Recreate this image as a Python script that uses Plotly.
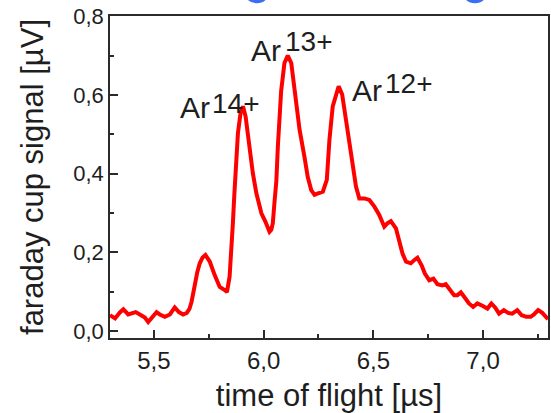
import plotly.graph_objects as go

# time of flight [µs]
tof = [5.300, 5.323, 5.345, 5.361, 5.383, 5.401, 5.417, 5.436, 5.459, 5.474,
       5.497, 5.512, 5.527, 5.550, 5.573, 5.595, 5.614, 5.633, 5.650, 5.662,
       5.672, 5.680, 5.686, 5.698, 5.709, 5.722, 5.735, 5.755, 5.777, 5.800,
       5.823, 5.833, 5.845, 5.853, 5.860, 5.866, 5.871, 5.877, 5.883, 5.895,
       5.906, 5.918, 5.927, 5.936, 5.951, 5.967, 5.990, 6.008, 6.027, 6.035,
       6.042, 6.050, 6.058, 6.065, 6.073, 6.080, 6.095, 6.110, 6.126, 6.141,
       6.164, 6.186, 6.201, 6.217, 6.232, 6.245, 6.255, 6.270, 6.288, 6.300,
       6.315, 6.330, 6.342, 6.358, 6.373, 6.383, 6.391, 6.406, 6.414, 6.421,
       6.436, 6.459, 6.482, 6.505, 6.527, 6.550, 6.565, 6.580, 6.603, 6.618,
       6.633, 6.649, 6.671, 6.686, 6.701, 6.720, 6.735, 6.755, 6.774, 6.792,
       6.815, 6.830, 6.845, 6.868, 6.883, 6.899, 6.914, 6.936, 6.955, 6.974,
       6.997, 7.020, 7.038, 7.055, 7.073, 7.095, 7.114, 7.133, 7.156, 7.176,
       7.197, 7.217, 7.232, 7.251, 7.270, 7.288, 7.296]
# faraday cup signal [µV]
signal = [0.040, 0.032, 0.047, 0.055, 0.042, 0.044, 0.048, 0.042, 0.034, 0.023,
          0.036, 0.048, 0.042, 0.036, 0.042, 0.060, 0.048, 0.042, 0.046, 0.056,
          0.075, 0.100, 0.123, 0.150, 0.172, 0.187, 0.193, 0.176, 0.142, 0.112,
          0.104, 0.099, 0.138, 0.200, 0.274, 0.340, 0.401, 0.455, 0.503, 0.554,
          0.571, 0.545, 0.505, 0.465, 0.401, 0.350, 0.299, 0.278, 0.252, 0.257,
          0.274, 0.330, 0.380, 0.470, 0.540, 0.610, 0.681, 0.700, 0.681, 0.613,
          0.511, 0.443, 0.392, 0.358, 0.346, 0.349, 0.350, 0.354, 0.384, 0.486,
          0.571, 0.605, 0.622, 0.601, 0.545, 0.511, 0.486, 0.426, 0.400, 0.367,
          0.337, 0.337, 0.333, 0.316, 0.295, 0.265, 0.274, 0.279, 0.261, 0.231,
          0.197, 0.176, 0.172, 0.180, 0.186, 0.167, 0.146, 0.129, 0.133, 0.119,
          0.116, 0.119, 0.108, 0.091, 0.091, 0.098, 0.087, 0.070, 0.061, 0.070,
          0.064, 0.057, 0.070, 0.060, 0.044, 0.053, 0.046, 0.044, 0.053, 0.040,
          0.036, 0.036, 0.042, 0.053, 0.046, 0.037, 0.030]

# peak labels
charge_states = ["14+", "13+", "12+"]
ar_label_x = [5.7585, 6.0845, 6.5463]
ar_label_y = [0.568, 0.712, 0.611]
sup_label_x = [5.758, 6.094, 6.549]
sup_label_y = [0.577, 0.736, 0.630]

x_tick_vals = [5.5, 6.0, 6.5, 7.0]
y_tick_vals = [0.0, 0.2, 0.4, 0.6, 0.8]

FONT = "Liberation Sans, Arial, sans-serif"
TXT = "#1e1e1e"
AX = "#2b2b2b"

fig = go.Figure()
fig.add_trace(go.Scatter(x=tof, y=signal, mode="lines",
                         line=dict(color="#ff0000", width=4),
                         showlegend=False, hoverinfo="skip"))

for q, ax_, ay_, sx, sy in zip(charge_states, ar_label_x, ar_label_y,
                                sup_label_x, sup_label_y):
    fig.add_annotation(x=ax_, y=ay_, xref="x", yref="y", text="Ar",
                       showarrow=False, xanchor="right", yanchor="middle",
                       font=dict(family=FONT, size=30, color=TXT), borderpad=0)
    fig.add_annotation(x=sx, y=sy, xref="x", yref="y", text=q,
                       showarrow=False, xanchor="left", yanchor="middle",
                       font=dict(family=FONT, size=28, color=TXT), borderpad=0)

# partially visible blue marks at the top edge of the picture
for x0, x1 in [(0.304, 0.366), (0.8025, 0.864)]:
    fig.add_shape(type="circle", xref="paper", yref="paper",
                  x0=x0, x1=x1, y0=1.0394, y1=1.1233,
                  fillcolor="#3b6ef5", line=dict(width=0), layer="above")

axis_common = dict(showline=True, linecolor=AX, linewidth=1.6, mirror=True,
                   ticks="inside", tickcolor=AX, tickwidth=1.5, ticklen=8,
                   showgrid=False, zeroline=False)

fig.update_layout(
    width=551, height=413,
    margin=dict(l=110, r=3, t=16, b=75, autoexpand=False),
    paper_bgcolor="white", plot_bgcolor="white",
    separators=",.",
    font=dict(family=FONT, color=TXT),
    xaxis=dict(range=[5.3, 7.296], tickvals=x_tick_vals, tickformat=".1f",
               tickfont=dict(size=24, family=FONT, color=TXT),
               minor=dict(dtick=0.25, tick0=5.25, ticks="inside", ticklen=4,
                          tickwidth=1.5, tickcolor=AX),
               title=dict(text="time of flight [µs]", standoff=12,
                          font=dict(size=31, family=FONT, color=TXT)),
               **axis_common),
    yaxis=dict(range=[-0.0178, 0.8005], tickvals=y_tick_vals, tickformat=".1f",
               tickfont=dict(size=22, family=FONT, color=TXT),
               minor=dict(dtick=0.1, tick0=0.1, ticks="inside", ticklen=4,
                          tickwidth=1.5, tickcolor=AX),
               title=dict(text="faraday cup signal [µV]", standoff=20,
                          font=dict(size=31, family=FONT, color=TXT)),
               **axis_common),
)

fig.write_html("out.html",
               config={"displayModeBar": False},
               post_script="document.body.style.margin='0';"
                           "document.body.style.overflow='hidden';")
